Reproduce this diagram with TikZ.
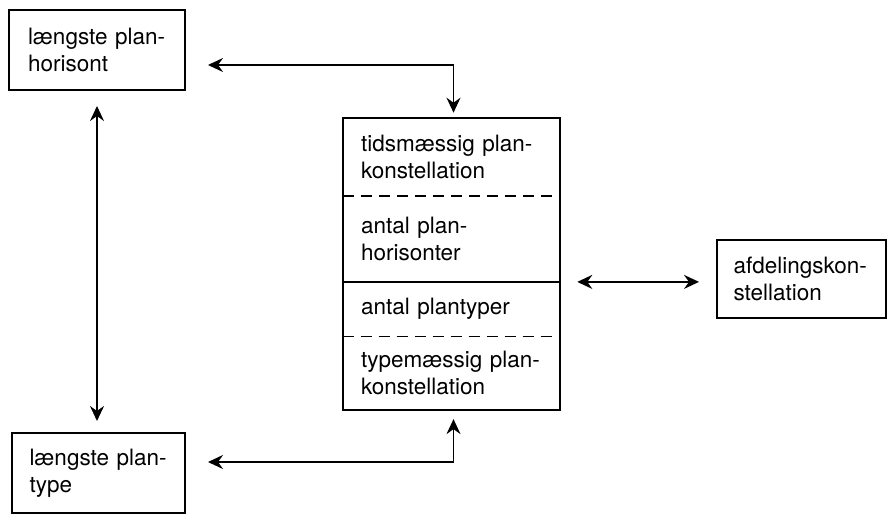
\documentclass[tikz,border=0pt]{standalone}
\usepackage{fontspec}
\newfontfamily\labfont{TeX Gyre Heros}
\usetikzlibrary{positioning,calc,arrows.meta}

\begin{document}
\begin{tikzpicture}
 [x=1pt,y=-1pt, semithick,
 box/.style={draw,line width=2pt,align=left,inner xsep=19pt,
   minimum height=80pt,font=\labfont\fontsize{22.5}{27}\selectfont},
 part/.style={align=left,inner xsep=18pt,inner ysep=0pt,
   text width=181pt,font=\labfont\fontsize{22.5}{27}\selectfont},
 twoway/.style={{Stealth[length=15pt,width=14pt,inset=5pt]}-{Stealth[length=15pt,width=14pt,inset=5pt]},line width=1.7pt}]
\useasboundingbox (0,0) rectangle (888,517);

\node (hor) at (97,50) [box,text width=138pt] {længste plan-\\horisont};
\node (typ) at (98.5,473) [box,text width=138pt,inner xsep=17.5pt] {længste plan-\\type};
\node (afd) at (801.5,279) [box,text width=136pt,minimum height=78pt,inner xsep=16.5pt] {afdelingskon-\\stellation};

\node (s1) at (451.5,157) [part,minimum height=78pt] {tidsmæssig plan-\\konstellation};
\node (s2) [part,minimum height=85pt,below=0pt of s1] {antal plan-\\horisonter};
\node (s3) [part,minimum height=54pt,below=0pt of s2] {antal plantyper};
\node (s4) [part,minimum height=73pt,below=0pt of s3] {typemæssig plan-\\konstellation};

\draw[line width=2pt] (s1.north west) rectangle (s4.south east);
\draw[line width=1.8pt,dash pattern=on 11pt off 7pt] (s1.south west) -- (s1.south east);
\draw[line width=2pt] (s2.south west) -- (s2.south east);
\draw[line width=1.8pt,dash pattern=on 11pt off 7pt] (s3.south west) -- (s3.south east);

\draw[twoway] ($(hor.east)+(22,15)$) -| ($(s1.north)+(2,-5)$);
\draw[twoway] ($(typ.east)+(22,-11)$) -| ($(s4.south)+(2,9)$);
\draw[twoway,shorten <=15pt,shorten >=11pt] (hor.south) -- (hor.south |- typ.north);
\draw[twoway,shorten <=17pt,shorten >=17pt] (s3.north east) -- (s3.north east -| afd.west);
\end{tikzpicture}
\end{document}
